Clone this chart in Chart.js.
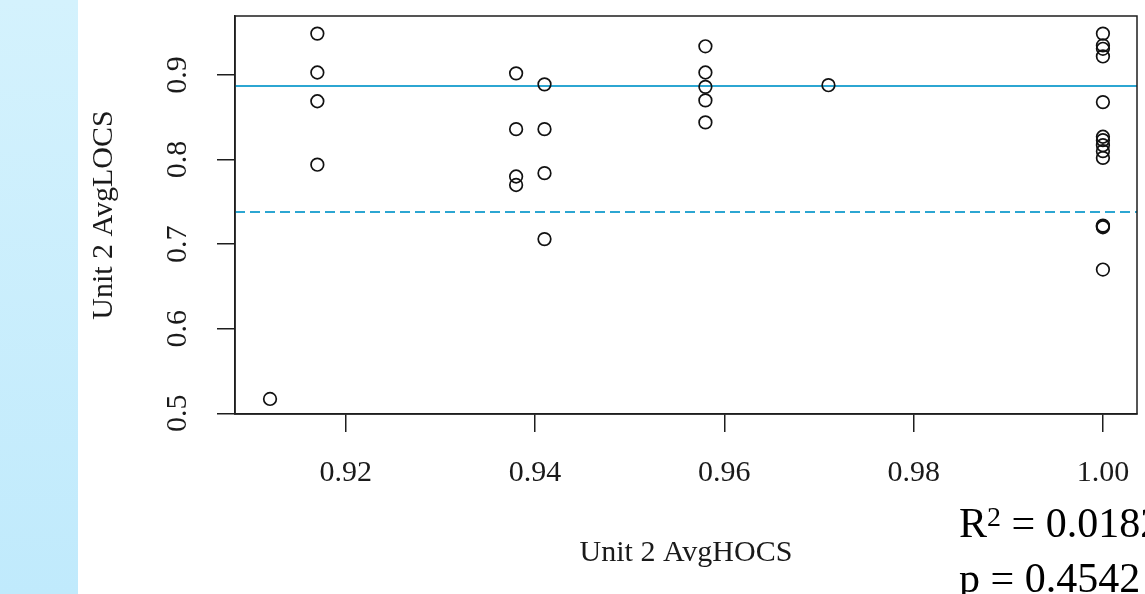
<!DOCTYPE html>
<html><head><meta charset="utf-8">
<script src="https://cdn.jsdelivr.net/npm/chart.js@4.4.1/dist/chart.umd.min.js"></script>
<style>
html,body{margin:0;padding:0;width:1145px;height:594px;overflow:hidden;background:#fff;}
#strip{position:absolute;left:0;top:0;width:78px;height:594px;background:linear-gradient(#d4f2fd,#c0eafc);}
#wrap{position:absolute;left:0;top:0;width:1145px;height:594px;}
#stats{position:absolute;left:959px;top:496px;font-family:'Liberation Serif','Times New Roman',serif;font-size:42px;line-height:55px;color:#000;white-space:nowrap;}
#stats .sup{font-size:28px;position:relative;top:-11px;line-height:0;}
</style></head><body>
<div id="strip"></div>
<div id="wrap"><canvas id="c" width="1145" height="594"></canvas></div>
<div id="stats"><div>R<span class="sup">2</span> = 0.0182</div><div>p = 0.4542</div></div>
<script>
// Data
const hocs = [0.912,
  0.917, 0.917, 0.917, 0.917,
  0.938, 0.938, 0.938, 0.938,
  0.941, 0.941, 0.941, 0.941,
  0.958, 0.958, 0.958, 0.958, 0.958,
  0.971,
  1.000, 1.000, 1.000, 1.000, 1.000, 1.000, 1.000, 1.000, 1.000, 1.000, 1.000, 1.000, 1.000, 1.000];
const locs = [0.517,
  0.949, 0.903, 0.869, 0.794,
  0.902, 0.836, 0.780, 0.770,
  0.889, 0.836, 0.784, 0.706,
  0.934, 0.903, 0.886, 0.870, 0.844,
  0.888,
  0.949, 0.935, 0.931, 0.922, 0.868, 0.827, 0.823, 0.817, 0.810, 0.802, 0.722, 0.721, 0.720, 0.670];
const xTicks = [0.92, 0.94, 0.96, 0.98, 1.00];
const yTicks = [0.5, 0.6, 0.7, 0.8, 0.9];
const xRange = [0.9083, 1.0036];
const yRange = [0.4992, 0.9698];
const solidLineY = 0.887;
const dashedLineY = 0.738;
const xTitle = 'Unit 2 AvgHOCS';
const yTitle = 'Unit 2 AvgLOCS';

const serif = "'Liberation Serif','Times New Roman',serif";
const ink = '#1e1e1e';
const lineColor = '#2ca6d2';

const points = hocs.map((x, i) => ({x: x, y: locs[i]}));

const framePlugin = {
  id: 'frame',
  afterDatasetsDraw(chart) {
    const {ctx, chartArea: a} = chart;
    ctx.save();
    ctx.strokeStyle = ink;
    ctx.lineWidth = 1.5;
    ctx.strokeRect(a.left, a.top, a.right - a.left, a.bottom - a.top);
    ctx.restore();
  }
};

new Chart(document.getElementById('c'), {
  type: 'scatter',
  data: {
    datasets: [
      {
        type: 'line',
        data: [{x: xRange[0], y: solidLineY}, {x: xRange[1], y: solidLineY}],
        borderColor: lineColor, borderWidth: 2, pointRadius: 0, fill: false, order: 2
      },
      {
        type: 'line',
        data: [{x: xRange[0], y: dashedLineY}, {x: xRange[1], y: dashedLineY}],
        borderColor: lineColor, borderWidth: 2, borderDash: [10, 5], pointRadius: 0, fill: false, order: 2
      },
      {
        data: points,
        pointStyle: 'circle', pointRadius: 6.3, pointBorderWidth: 1.7,
        borderColor: '#111', backgroundColor: 'rgba(0,0,0,0)', order: 1
      }
    ]
  },
  options: {
    responsive: false,
    animation: false,
    devicePixelRatio: 1,
    layout: {padding: {top: 16, right: 7, bottom: 0, left: 0}},
    plugins: {legend: {display: false}, tooltip: {enabled: false}},
    scales: {
      x: {
        type: 'linear', position: 'bottom', min: xRange[0], max: xRange[1],
        afterBuildTicks: s => { s.ticks = xTicks.map(v => ({value: v})); },
        afterFit: s => { s.height = 180; s.paddingLeft = 0; s.paddingRight = 0; },
        ticks: {autoSkip: false, padding: 23, color: '#1a1a1a', font: {family: serif, size: 30},
          callback: v => Number(v).toFixed(2)},
        grid: {drawOnChartArea: false, drawTicks: true, tickLength: 18, color: ink, lineWidth: 1.5},
        border: {display: true, color: ink, width: 1.5},
        title: {display: true, text: xTitle, color: '#1a1a1a', font: {family: serif, size: 30}, padding: {top: 0, bottom: 23}}
      },
      y: {
        type: 'linear', position: 'left', min: yRange[0], max: yRange[1],
        afterBuildTicks: s => { s.ticks = yTicks.map(v => ({value: v})); },
        afterFit: s => { s.width = 235; s.paddingTop = 0; s.paddingBottom = 0; },
        ticks: {autoSkip: false, padding: 20, minRotation: 90, maxRotation: 90, crossAlign: 'center',
          color: '#1a1a1a', font: {family: serif, size: 30},
          callback: v => Number(v).toFixed(1)},
        grid: {drawOnChartArea: false, drawTicks: true, tickLength: 18, color: ink, lineWidth: 1.5},
        border: {display: true, color: ink, width: 1.5},
        title: {display: true, text: yTitle, color: '#1a1a1a', font: {family: serif, size: 30}, padding: {top: 86, bottom: 0}}
      }
    }
  },
  plugins: [framePlugin]
});
</script>
</body></html>
